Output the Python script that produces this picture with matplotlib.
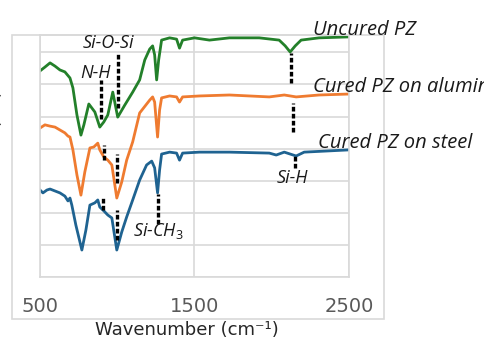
import matplotlib
matplotlib.use("Agg")
import matplotlib.pyplot as plt
from matplotlib.patches import Rectangle

# ---- data (y in arbitrary transmittance units) ----
wn_green = [500, 532, 565, 597, 629, 661, 694, 713, 739, 765, 784, 816, 855, 887, 913, 939, 971, 1003,
            1048, 1100, 1145, 1178, 1210, 1229, 1242, 1255, 1268, 1287, 1339, 1384, 1403, 1423, 1500,
            1597, 1726, 1919, 2048, 2087, 2119, 2152, 2190, 2306, 2500]
tr_green = [64.2, 65.4, 66.7, 65.7, 64.5, 63.9, 62.0, 58.9, 50.5, 44.2, 47.4, 53.9, 51.4, 46.7, 48.3, 50.5, 57.6, 49.8,
            53.5, 57.6, 61.4, 67.6, 71.0, 72.0, 69.2, 61.4, 67.6, 73.8, 74.5, 74.1, 71.3, 73.8, 74.5,
            73.8, 74.5, 74.5, 73.8, 72.0, 70.1, 72.0, 73.8, 74.5, 74.8]

wn_orange = [500, 532, 565, 597, 629, 661, 681, 694, 713, 739, 765, 790, 823, 848, 874, 887, 913, 939, 965,
             997, 1029, 1061, 1100, 1145, 1210, 1229, 1242, 1261, 1274, 1287, 1339, 1384, 1403, 1423,
             1532, 1726, 1984, 2081, 2158, 2306, 2500]
tr_orange = [46.4, 47.4, 47.0, 46.7, 45.8, 44.9, 43.9, 43.6, 39.6, 31.8, 25.5, 32.7, 40.2, 40.5, 41.7, 39.6, 37.4, 36.4, 34.9,
             24.6, 29.6, 36.4, 42.1, 51.1, 55.1, 56.1, 54.5, 43.6, 52.0, 55.8, 56.4, 56.1, 54.5, 56.1,
             56.4, 56.7, 56.1, 56.7, 56.1, 56.7, 57.0]

wn_blue = [500, 519, 545, 565, 597, 629, 661, 681, 694, 706, 732, 771, 797, 823, 855, 874, 887, 913, 939, 965,
           997, 1029, 1061, 1100, 1145, 1190, 1223, 1242, 1261, 1274, 1287, 1339, 1384, 1403, 1423,
           1532, 1726, 1984, 2029, 2081, 2158, 2210, 2500]
tr_blue = [27.1, 26.2, 27.1, 27.4, 26.8, 26.2, 25.2, 23.7, 24.6, 22.4, 16.2, 8.4, 14.6, 22.4, 23.1, 24.0, 21.8, 20.6, 19.3, 18.4,
           8.4, 14.0, 18.7, 24.0, 30.2, 34.9, 36.1, 34.0, 26.2, 33.3, 38.3, 38.9, 38.6, 36.4, 38.6,
           38.9, 38.9, 38.6, 38.0, 38.9, 37.7, 38.9, 39.6]

series_names = ["Uncured PZ", "Cured PZ on aluminum", "Cured PZ on steel"]
series_colors = ["#23802a", "#ef7b30", "#1f6391"]

# band marker lines: (wavenumber, y_top, y_bottom)
mark_wn = [1003, 894, 913, 997, 906, 997, 1261, 2126, 2139, 2152]
mark_top = [70.1, 61.4, 41.1, 38.3, 24.9, 20.9, 25.9, 69.8, 54.2, 38.0]
mark_bot = [52.6, 49.2, 36.4, 29.3, 20.9, 11.5, 16.5, 60.4, 45.2, 34.0]

band_labels = ["Si-O-Si", "N-H", "Si-H", "Si-CH$_{\\mathit{3}}$"]

x_ticks = [500, 1500, 2500]

# ---- figure ----
W, H = 485, 360
fig = plt.figure(figsize=(W / 100, H / 100), dpi=100)
plt.rcParams['mathtext.fontset'] = 'custom'
plt.rcParams['mathtext.rm'] = 'Open Sans'
plt.rcParams['mathtext.it'] = 'Open Sans:italic'

def fx(px):
    return px / W

def fy(py):
    return 1 - py / H

# outer chart border
fig.patches.append(Rectangle((fx(12), fy(319)), fx(384) - fx(12), fy(35) - fy(319),
                             transform=fig.transFigure, fill=False, edgecolor="#d9d9d9", lw=1.2))

ax = fig.add_axes([fx(40), fy(277), fx(349) - fx(40), fy(35) - fy(277)])
ax.set_xlim(500, 2500)
ax.set_ylim(0, (277 - 35) / 3.21)
for s in ax.spines.values():
    s.set_color("#d9d9d9")
    s.set_linewidth(1.2)
ax.set_yticks(range(0, 80, 10))
ax.set_yticklabels([])
ax.set_xticks(x_ticks)
ax.set_xticklabels([])
ax.tick_params(length=0)
ax.grid(True, color="#d9d9d9", lw=1.2)
ax.set_axisbelow(True)

for wn, tr, c in zip([wn_green, wn_orange, wn_blue], [tr_green, tr_orange, tr_blue], series_colors):
    ax.plot(wn, tr, color=c, lw=2.0, solid_joinstyle="round")

for w, t, b in zip(mark_wn, mark_top, mark_bot):
    ax.plot([w, w], [b, t], color="black", lw=2.4, linestyle=(0, (1.4, 0.7)), solid_capstyle="butt")

# tick labels (outside plot area, in figure coords)
for v in x_ticks:
    xp = 40 + (v - 500) / 2000 * (349 - 40)
    fig.text(fx(xp), fy(306), str(v), ha="center", va="center", fontsize=14, color="#595959")

fig.text(fx(187), fy(330), "Wavenumber (cm\u207b\u00b9)", ha="center", va="center", fontsize=13, color="#262626")
fig.text(fx(3), fy(92), "Transmittance (a.u.)", ha="right", va="top", rotation=90,
         fontsize=11, family="Open Sans", color="#404040")

ann = dict(family="Open Sans", style="italic", color="#1a1a1a")
fig.text(fx(313), fy(35), series_names[0], ha="left", va="baseline", fontsize=14.5, **ann)
fig.text(fx(313), fy(92), series_names[1], ha="left", va="baseline", fontsize=14.5, **ann)
fig.text(fx(318), fy(148), series_names[2], ha="left", va="baseline", fontsize=14.5, **ann)

fig.text(fx(83), fy(48), band_labels[0], ha="left", va="baseline", fontsize=13, **ann)
fig.text(fx(80), fy(78), band_labels[1], ha="left", va="baseline", fontsize=13, **ann)
fig.text(fx(277), fy(183), band_labels[2], ha="left", va="baseline", fontsize=13, **ann)
fig.text(fx(133), fy(236), band_labels[3], ha="left", va="baseline", fontsize=13, **ann)

fig.savefig("out.png", dpi=100)
